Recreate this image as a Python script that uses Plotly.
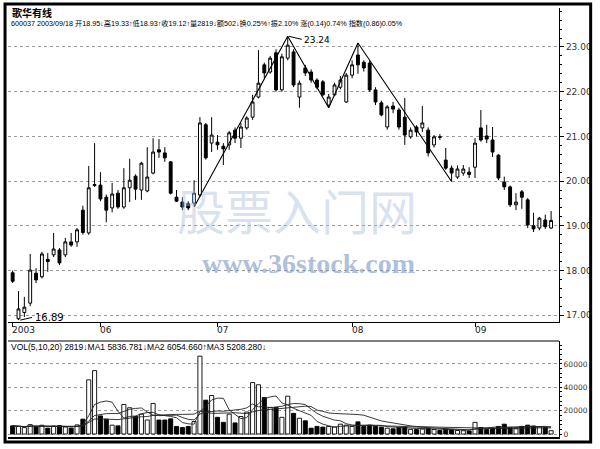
import plotly.graph_objects as go
import pandas as pd

# ---------------- data ----------------
day_index = list(range(1, 94))
open_prices = [17.95, 16.92, 17.06, 17.27, 17.94, 17.86, 18.25, 18.35, 18.46, 18.35,
               18.64, 18.64, 19.35, 18.84, 19.90, 19.91, 19.64, 19.40, 19.73, 19.42,
               19.85, 20.11, 19.80, 19.78, 20.18, 20.70, 20.63, 20.43, 19.64, 19.53,
               19.50, 19.51, 19.69, 21.26, 20.85, 20.87, 20.78, 20.81, 21.14, 20.96,
               21.19, 21.43, 21.88, 22.60, 22.44, 22.87, 22.04, 22.75, 22.89, 21.88,
               22.53, 22.44, 22.26, 22.22, 21.70, 21.93, 22.10, 21.77, 22.37, 22.82,
               22.66, 22.64, 22.04, 21.75, 21.21, 21.68, 21.59, 21.43, 20.99, 21.21,
               21.19, 21.14, 20.81, 20.99, 20.47, 20.29, 20.09, 20.18, 20.20, 20.31,
               21.19, 21.01, 20.92, 20.58, 19.98, 19.87, 19.47, 19.76, 19.58, 19.00,
               18.95, 19.13, 18.95]
high_prices = [18.00, 17.54, 17.41, 18.37, 18.05, 18.42, 18.39, 18.84, 18.50, 18.73,
               18.84, 18.95, 19.45, 20.34, 20.85, 20.20, 19.70, 19.96, 19.80, 20.29,
               20.50, 20.15, 20.43, 20.76, 20.96, 20.94, 20.76, 20.45, 19.80, 19.64,
               19.55, 20.02, 21.43, 21.30, 21.43, 21.03, 20.85, 21.12, 21.20, 21.30,
               21.45, 21.93, 22.93, 22.65, 22.80, 22.95, 22.85, 23.24, 22.95, 22.25,
               22.60, 22.50, 22.30, 22.26, 21.95, 22.20, 22.35, 22.42, 22.70, 23.09,
               22.70, 22.70, 22.10, 21.80, 21.70, 21.77, 21.64, 21.86, 21.20, 21.25,
               21.68, 21.20, 21.03, 21.05, 20.74, 20.35, 20.35, 20.36, 20.31, 20.96,
               21.59, 21.26, 21.21, 20.60, 20.10, 19.90, 19.73, 19.80, 19.62, 19.29,
               19.20, 19.25, 19.33]
low_prices = [17.72, 16.89, 16.96, 17.20, 17.72, 17.82, 17.97, 18.30, 18.12, 18.30,
              18.53, 18.53, 18.80, 18.80, 19.87, 19.55, 19.08, 19.30, 19.38, 19.38,
              19.53, 19.58, 19.58, 19.75, 20.15, 20.52, 20.43, 19.70, 19.53, 19.35,
              19.35, 19.45, 19.65, 20.48, 20.65, 20.70, 20.36, 20.70, 20.85, 20.74,
              21.15, 21.37, 21.85, 22.30, 22.40, 22.00, 22.00, 22.70, 22.10, 21.64,
              22.35, 22.20, 22.05, 21.90, 21.64, 21.90, 22.05, 21.75, 22.30, 22.40,
              22.45, 22.00, 21.70, 21.45, 21.15, 21.52, 21.15, 20.81, 20.95, 21.00,
              21.10, 20.55, 20.75, 20.92, 20.25, 19.99, 20.05, 20.12, 20.07, 20.07,
              20.88, 20.85, 20.54, 20.02, 19.80, 19.42, 19.35, 19.38, 18.95, 18.86,
              18.90, 18.93, 18.93]
close_prices = [17.76, 17.14, 17.18, 18.01, 17.79, 18.37, 18.20, 18.48, 18.17, 18.64,
                18.57, 18.91, 18.85, 19.85, 19.92, 19.60, 19.35, 19.71, 19.42, 19.85,
                20.02, 19.82, 20.40, 20.09, 20.65, 20.65, 20.52, 19.73, 19.55, 19.42,
                19.40, 19.73, 21.30, 20.52, 21.03, 20.81, 20.72, 21.08, 20.96, 21.21,
                21.41, 21.77, 22.19, 22.42, 22.75, 22.04, 22.78, 23.04, 22.15, 22.19,
                22.42, 22.26, 22.10, 21.93, 21.88, 22.15, 22.26, 22.37, 22.60, 22.60,
                22.53, 22.04, 21.77, 21.48, 21.66, 21.61, 21.21, 21.03, 21.14, 21.10,
                21.30, 20.63, 20.99, 20.98, 20.29, 20.18, 20.27, 20.27, 20.15, 20.85,
                20.92, 20.94, 20.65, 20.07, 19.87, 19.47, 19.53, 19.64, 19.02, 18.93,
                19.17, 18.98, 19.12]
volumes = [7000, 6500, 5500, 8000, 6000, 7500, 5000, 6800, 7200, 6000,
           5000, 7800, 12700, 46400, 54300, 15500, 12700, 7600, 7000, 25300,
           22500, 15000, 17000, 12000, 26200, 12000, 12000, 13000, 6500, 5600,
           6500, 10700, 66700, 29000, 33000, 14300, 10000, 17000, 9500, 15000,
           18800, 44100, 42200, 31200, 22800, 22800, 14300, 32400, 17700, 13500,
           11300, 5000, 6500, 5900, 6500, 5900, 8400, 7600, 6500, 10400,
           6500, 7600, 6500, 5900, 5000, 4500, 5500, 6000, 4000, 3800,
           4200, 5000, 3800, 3000, 4200, 3600, 3000, 2800, 2600, 10000,
           5600, 3800, 5000, 6500, 8400, 5400, 4500, 6500, 7600, 6900,
           6400, 5500, 2819]

month_tick_pos = [1, 16, 36, 59, 80]
month_tick_text = ["2003", "06", "07", "08", "09"]
price_ticks = [17, 18, 19, 20, 21, 22, 23]
volume_ticks = [0, 20000, 40000, 60000]
volume_tick_text = ["0", "20000", "40000", "60000"]

trend_x = [32, 48, 55, 60, 76]
trend_y = [19.42, 23.24, 21.64, 23.09, 19.99]

title_name = "歌华有线"
header_line = ("600037 2003/09/18 开18.95↓高19.33↑低18.93↑收19.12↑量2819↓额502↓"
               "换0.25%↑振2.10% 涨(0.14)0.74% 指数(0.86)0.05%")
vol_header = "VOL(5,10,20) 2819↓MA1 5836.781↓MA2 6054.660↑MA3 5208.280↓"

# ---------------- geometry helpers ----------------
W, H = 600, 449
L, R, T, B = 8, 35, 8, 12
PW, PH = W - L - R, H - T - B


def pxx(p):
    return (p - L) / PW


def pyy(p):
    return (H - B - p) / PH


ser = pd.Series(volumes, dtype=float)
ma5 = ser.rolling(5, min_periods=1).mean()
ma10 = ser.rolling(10, min_periods=1).mean()
ma20 = ser.rolling(20, min_periods=1).mean()

vol_fill = ["white" if c >= o else "black" for o, c in zip(open_prices, close_prices)]

fig = go.Figure()

fig.add_trace(go.Candlestick(
    x=day_index, open=open_prices, high=high_prices, low=low_prices, close=close_prices,
    increasing=dict(line=dict(color="black", width=1), fillcolor="white"),
    decreasing=dict(line=dict(color="black", width=1), fillcolor="black"),
    whiskerwidth=0, showlegend=False, hoverinfo="skip",
    xaxis="x", yaxis="y"))

fig.add_trace(go.Scatter(
    x=trend_x, y=trend_y, mode="lines", line=dict(color="black", width=1.1),
    showlegend=False, hoverinfo="skip", xaxis="x", yaxis="y"))

fig.add_trace(go.Bar(
    x=day_index, y=volumes, width=0.7,
    marker=dict(color=vol_fill, line=dict(color="black", width=0.9)),
    showlegend=False, hoverinfo="skip", xaxis="x2", yaxis="y2"))

for ma in (ma5, ma10, ma20):
    fig.add_trace(go.Scatter(
        x=day_index, y=ma, mode="lines", line=dict(color="#222", width=0.9),
        showlegend=False, hoverinfo="skip", xaxis="x2", yaxis="y2"))

x_range = [0.206, 94.35]
axis_font = dict(family="DejaVu Sans, Noto Sans CJK SC", size=9, color="#333")
vol_axis_font = dict(family="DejaVu Sans", size=7.5, color="#333")

fig.update_layout(
    width=W, height=H,
    margin=dict(l=L, r=R, t=T, b=B),
    paper_bgcolor="white", plot_bgcolor="white",
    font=axis_font,
    boxgap=0.3,
    xaxis=dict(domain=[0, 1], range=x_range, anchor="y",
               showgrid=False, zeroline=False, showticklabels=False,
               showline=True, linecolor="black", linewidth=1.2,
               tickmode="array", tickvals=month_tick_pos,
               ticks="outside", ticklen=4, tickcolor="black",
               rangeslider=dict(visible=False)),
    yaxis=dict(domain=[pyy(322), 1], range=[16.848, 23.872], side="right",
               anchor="x", tickvals=price_ticks, tickformat=".2f",
               showgrid=True, gridcolor="#9a9a9a", griddash="dot", gridwidth=1,
               showline=True, linecolor="black", linewidth=1.2,
               ticks="outside", ticklen=4, tickcolor="black",
               minor=dict(dtick=0.2, ticks="outside", ticklen=2, tickcolor="black"),
               zeroline=False, tickfont=axis_font),
    xaxis2=dict(domain=[0, 1], range=x_range, anchor="y2",
                showgrid=False, zeroline=False, showticklabels=False,
                showline=True, linecolor="black", linewidth=2, ticks=""),
    yaxis2=dict(domain=[0, pyy(341)], range=[-2571, 79700], side="right",
                anchor="x2", tickvals=volume_ticks, ticktext=volume_tick_text,
                showgrid=True, gridcolor="#9a9a9a", griddash="dot", gridwidth=1,
                showline=True, linecolor="black", linewidth=1.2,
                ticks="outside", ticklen=2, tickcolor="black",
                minor=dict(dtick=4000, ticks="outside", ticklen=2, tickcolor="black"),
                zeroline=False, tickfont=vol_axis_font),
)

shapes = []
# outer frame
shapes.append(dict(type="rect", xref="paper", yref="paper",
                   x0=pxx(5), x1=pxx(597), y0=pyy(442), y1=pyy(4),
                   line=dict(color="black", width=3)))
# top line of the volume panel
shapes.append(dict(type="line", xref="paper", yref="paper",
                   x0=0, x1=1, y0=pyy(341), y1=pyy(341),
                   line=dict(color="black", width=1)))
# leader lines for extreme labels
shapes.append(dict(type="line", xref="x", yref="y", x0=48.2, y0=23.24, x1=50.4, y1=23.17,
                   line=dict(color="black", width=1)))
shapes.append(dict(type="line", xref="x", yref="y", x0=2.3, y0=16.89, x1=4.3, y1=16.95,
                   line=dict(color="black", width=1)))

annotations = []
annotations.append(dict(x=pxx(10), y=pyy(12), xref="paper", yref="paper",
                        text="<b>" + title_name + "</b>", showarrow=False,
                        xanchor="left", yanchor="middle",
                        font=dict(family="Noto Sans CJK SC", size=10, color="black")))
annotations.append(dict(x=pxx(9), y=pyy(24), xref="paper", yref="paper",
                        text=header_line, showarrow=False,
                        xanchor="left", yanchor="middle",
                        font=dict(family="Liberation Sans, Noto Sans CJK SC", size=7.2,
                                  color="black")))
annotations.append(dict(x=pxx(9), y=pyy(347), xref="paper", yref="paper",
                        text=vol_header, showarrow=False,
                        xanchor="left", yanchor="middle",
                        font=dict(family="Liberation Sans", size=8.5, color="black")))
annotations.append(dict(x=50.5, y=23.16, xref="x", yref="y", text="23.24",
                        showarrow=False, xanchor="left", yanchor="middle",
                        font=dict(family="DejaVu Sans", size=9, color="black")))
annotations.append(dict(x=4.4, y=16.95, xref="x", yref="y", text="16.89",
                        showarrow=False, xanchor="left", yanchor="middle",
                        font=dict(family="DejaVu Sans", size=10, color="black")))
for pos, txt in zip(month_tick_pos, month_tick_text):
    annotations.append(dict(x=pos - 0.4, y=pyy(330), xref="x", yref="paper", text=txt,
                            showarrow=False, xanchor="left", yanchor="middle",
                            font=dict(family="DejaVu Sans", size=9, color="#222")))
# watermark
annotations.append(dict(x=pxx(300), y=pyy(209), xref="paper", yref="paper",
                        text="股票入门网", showarrow=False,
                        xanchor="center", yanchor="middle",
                        font=dict(family="Noto Sans CJK SC", size=48,
                                  color="rgba(170,190,220,0.45)")))
annotations.append(dict(x=pxx(312), y=pyy(263), xref="paper", yref="paper",
                        text="<b>www.36stock.com</b>", showarrow=False,
                        xanchor="center", yanchor="middle",
                        font=dict(family="Liberation Serif", size=28,
                                  color="rgba(120,150,195,0.6)")))

fig.update_layout(shapes=shapes, annotations=annotations)

fig.write_html("out.html", config={"displayModeBar": False},
               post_script="document.body.style.margin='0px';")
